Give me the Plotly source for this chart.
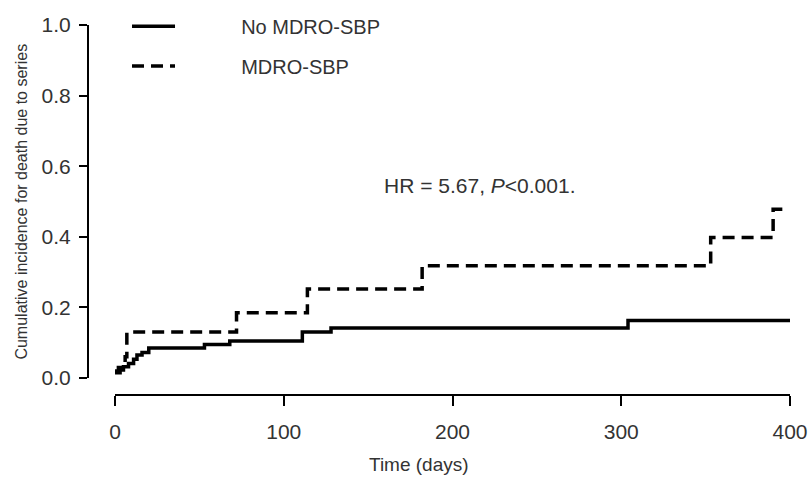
import plotly.graph_objects as go

# Data (days, cumulative incidence)
no_mdro_days = [0, 3, 5, 8, 11, 13, 16, 20, 53, 68, 111, 128, 304, 403]
no_mdro_cif = [0.015, 0.023, 0.032, 0.041, 0.053, 0.065, 0.072, 0.085, 0.095, 0.105, 0.13, 0.142, 0.163, 0.163]

mdro_days = [0, 2, 4, 6, 7, 72, 114, 182, 353, 390, 399]
mdro_cif = [0.02, 0.03, 0.045, 0.06, 0.13, 0.185, 0.252, 0.318, 0.398, 0.478, 0.478]

series_names = ["No MDRO-SBP", "MDRO-SBP"]
x_ticks = [0, 100, 200, 300, 400]
y_ticks = [0.0, 0.2, 0.4, 0.6, 0.8, 1.0]

FONT = "Liberation Sans, Arial, sans-serif"
TXT = "#333333"
PAD = " " * 11  # gap between legend sample and label, as in the reference

fig = go.Figure()
fig.add_trace(go.Scatter(
    x=no_mdro_days, y=no_mdro_cif, mode="lines", name=PAD + series_names[0],
    line=dict(color="black", width=3.5, shape="hv"), legend="legend", showlegend=True))
fig.add_trace(go.Scatter(
    x=mdro_days, y=mdro_cif, mode="lines", name=PAD + series_names[1],
    line=dict(color="black", width=3.5, shape="hv", dash="12px,7px"), legend="legend2",
    showlegend=True))

fig.add_annotation(x=158, y=0.545, xref="x", yref="y", xanchor="left", yanchor="middle",
                   text="HR = 5.67, <i>P</i><0.001.", showarrow=False,
                   font=dict(family=FONT, size=21, color=TXT))
fig.add_annotation(x=0.472, y=-0.189, xref="paper", yref="paper", xanchor="center", yanchor="middle",
                   text="Time (days)", showarrow=False,
                   font=dict(family=FONT, size=19, color=TXT))
fig.add_annotation(x=-0.0953, y=0.523, xref="paper", yref="paper", xanchor="center", yanchor="middle",
                   text="Cumulative incidence for death due to series", textangle=-90,
                   showarrow=False, font=dict(family=FONT, size=16, color=TXT))

fig.update_layout(
    width=809, height=485,
    showlegend=True,
    margin=dict(l=88, r=19, t=25, b=90, autoexpand=False),
    paper_bgcolor="white", plot_bgcolor="white",
    font=dict(family=FONT, size=20, color=TXT),
    xaxis=dict(domain=[0.0385, 1], range=[0, 400], anchor="free", position=0,
               showline=True, linecolor="black", linewidth=2,
               ticks="outside", ticklen=10, tickwidth=2, tickcolor="black",
               tickvals=x_ticks, showgrid=False, zeroline=False,
               ticklabelstandoff=8, tickfont=dict(size=21, color=TXT)),
    yaxis=dict(domain=[0.0459, 1], range=[0, 1], anchor="free", position=0,
               showline=True, linecolor="black", linewidth=2,
               ticks="outside", ticklen=8, tickwidth=2, tickcolor="black",
               tickvals=y_ticks, tickformat=".1f", showgrid=False, zeroline=False,
               ticklabelstandoff=4, tickfont=dict(size=21, color=TXT)),
    legend=dict(xref="container", yref="container", x=0.157, y=0.946,
                xanchor="left", yanchor="middle", bgcolor="rgba(0,0,0,0)",
                font=dict(size=20, color=TXT), itemwidth=43),
    legend2=dict(xref="container", yref="container", x=0.157, y=0.864,
                 xanchor="left", yanchor="middle", bgcolor="rgba(0,0,0,0)",
                 font=dict(size=20, color=TXT), itemwidth=43),
)

fig.write_html("out.html", config={"displayModeBar": False},
               post_script="document.body.style.margin='0';")
